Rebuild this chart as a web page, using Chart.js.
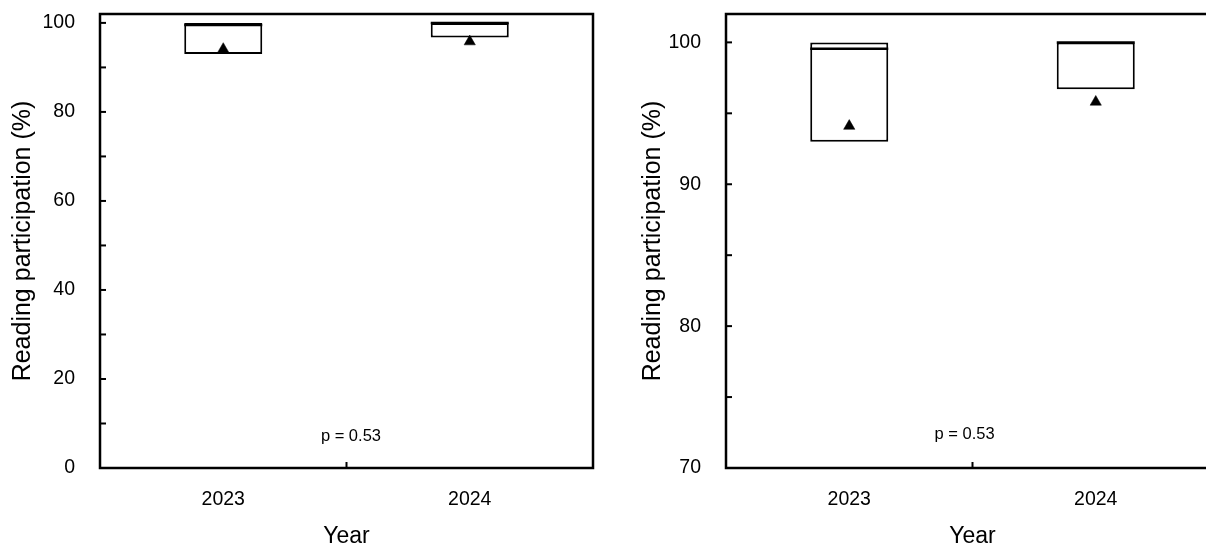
<!DOCTYPE html>
<html>
<head>
<meta charset="utf-8">
<script src="https://cdn.jsdelivr.net/npm/chart.js@4.4.1/dist/chart.umd.min.js"></script>
<style>
  html, body { margin: 0; padding: 0; width: 1206px; height: 547px; overflow: hidden; background: #fff; }
  canvas { position: absolute; top: 0; }
  #full { left: 0; }
  #zoomed { left: 630px; }
</style>
</head>
<body>
<canvas id="full" width="620" height="547"></canvas>
<canvas id="zoomed" width="620" height="547"></canvas>
<script>
// Reading participation by year: box = Q1..Q3, bar = median, triangle = mean
const years = ['2023', '2024'];
const q1 = [93.0, 96.7];
const median = [99.55, 100];
const q3 = [100, 100];
const mean = [94.1, 95.8];
const pText = 'p = 0.53';

// y-axis ticks: labelled and unlabelled marks
const fullMajorTicks = [0, 20, 40, 60, 80, 100];
const fullMinorTicks = [10, 30, 50, 70, 90];
const zoomMajorTicks = [70, 80, 90, 100];
const zoomMinorTicks = [75, 85, 95];
const axisMax = 102;

const FONT = '"Liberation Sans", Arial, sans-serif';
Chart.defaults.font.family = FONT;
Chart.defaults.color = '#000';

// keep the plot area exactly where the layout padding puts it
function noScalePadding(s) {
  s.paddingTop = 0;
  s.paddingBottom = 0;
  s.paddingLeft = 0;
  s.paddingRight = 0;
}

// Frame, inward tick marks and the p-value note
const framePlugin = {
  id: 'frame',
  afterDraw(chart, args, opts) {
    const { ctx, chartArea: a, scales: { x, y } } = chart;
    ctx.save();
    ctx.strokeStyle = '#000';
    ctx.lineCap = 'butt';
    ctx.lineWidth = 2;
    y.ticks.forEach((t, i) => {
      const py = y.getPixelForTick(i);
      ctx.beginPath();
      ctx.moveTo(a.left, py);
      ctx.lineTo(a.left + 6, py);
      ctx.stroke();
    });
    for (let i = 0; i < x.ticks.length - 1; i++) {
      const px = (x.getPixelForTick(i) + x.getPixelForTick(i + 1)) / 2;
      ctx.beginPath();
      ctx.moveTo(px, a.bottom);
      ctx.lineTo(px, a.bottom - 6);
      ctx.stroke();
    }
    ctx.lineWidth = 2.5;
    ctx.strokeRect(a.left, a.top, a.right - a.left, a.bottom - a.top);
    ctx.fillStyle = '#000';
    ctx.font = '16.5px ' + FONT;
    ctx.textAlign = 'center';
    ctx.textBaseline = 'middle';
    ctx.fillText(opts.text, a.left + (a.right - a.left) * opts.fx, a.top + (a.bottom - a.top) * opts.fy);
    ctx.restore();
  }
};

function makeChart(id, yMin, major, minor, yWidth, rightPad, noteFx, noteFy) {
  const allTicks = major.concat(minor).sort((a, b) => a - b);
  return new Chart(document.getElementById(id), {
    data: {
      labels: years,
      datasets: [
        {
          type: 'line', label: 'Mean', data: mean, showLine: false,
          pointStyle: 'triangle', pointRadius: 6.5, pointBackgroundColor: '#000',
          pointBorderColor: '#000', pointBorderWidth: 0.5, order: 0
        },
        {
          type: 'line', label: 'Median', data: median, showLine: false,
          pointStyle: 'line', pointRadius: 39, pointBorderColor: '#000',
          pointBorderWidth: 2.5, order: 1
        },
        {
          type: 'bar', label: 'Interquartile range',
          data: years.map((_, i) => [q1[i], q3[i]]),
          backgroundColor: '#fff', borderColor: '#000', borderWidth: 2,
          borderSkipped: false, barPercentage: 0.3165, categoryPercentage: 1, order: 2
        }
      ]
    },
    options: {
      responsive: false,
      animation: false,
      events: [],
      layout: { autoPadding: false, padding: { top: 14, right: rightPad, bottom: 0, left: 0 } },
      plugins: {
        legend: { display: false },
        tooltip: { enabled: false },
        frame: { text: pText, fx: noteFx, fy: noteFy }
      },
      scales: {
        x: {
          type: 'category',
          offset: true,
          grid: { display: false, drawTicks: false },
          border: { display: false },
          afterFit: s => { s.height = 79; noScalePadding(s); },
          ticks: { padding: 20, color: '#000', font: { size: 19.5 } },
          title: { display: true, text: 'Year', color: '#000', font: { size: 23 }, padding: { top: 0, bottom: -3 } }
        },
        y: {
          type: 'linear',
          min: yMin,
          max: axisMax,
          afterBuildTicks: s => { s.ticks = allTicks.map(v => ({ value: v })); },
          afterFit: s => { s.width = yWidth; noScalePadding(s); },
          grid: { display: false, drawTicks: false },
          border: { display: false },
          ticks: {
            padding: 25, autoSkip: false, color: '#000', font: { size: 19.5 },
            callback: v => (major.includes(v) ? String(v) : '')
          },
          title: {
            display: true, text: 'Reading participation (%)', color: '#000',
            font: { size: 25 }, padding: { top: 8, bottom: 0 }
          }
        }
      }
    },
    plugins: [framePlugin]
  });
}

makeChart('full', 0, fullMajorTicks, fullMinorTicks, 100, 27, 0.509, 0.93);
makeChart('zoomed', 70, zoomMajorTicks, zoomMinorTicks, 96, 31, 0.484, 0.926);
</script>
</body>
</html>
